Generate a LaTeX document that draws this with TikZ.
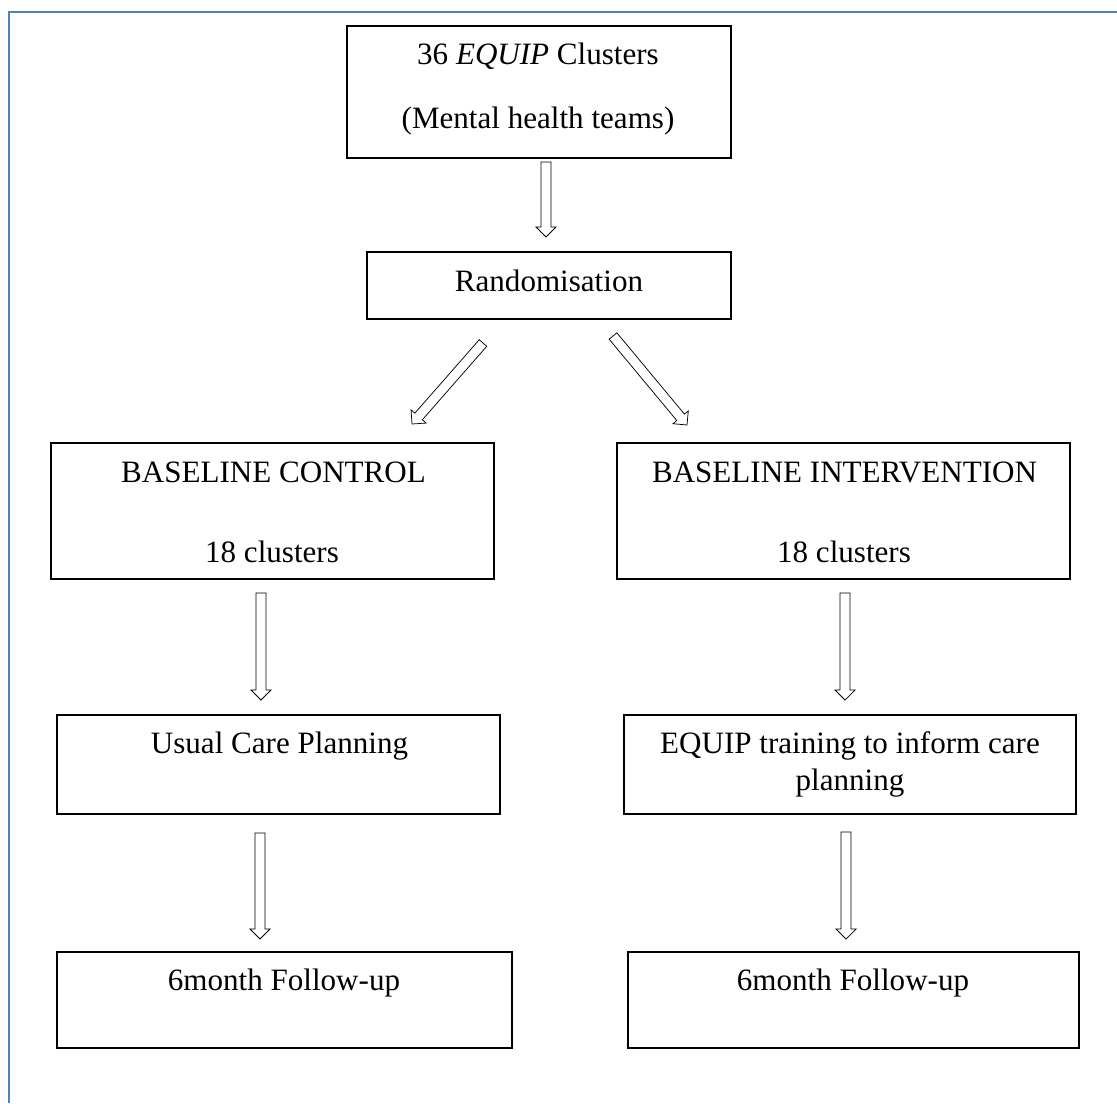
\documentclass[tikz,border=0pt]{standalone}
\usepackage{fontspec}
\setmainfont{Liberation Serif}
\usetikzlibrary{calc}
\definecolor{frameblue}{RGB}{79,129,189}
\tikzset{
  box/.style={draw=black, line width=1pt, fill=white, inner sep=0pt},
  txt/.style={anchor=base, inner sep=0pt, font=\fontsize{23.3}{28}\selectfont},
  hollow/.style={draw=black, line width=0.55pt, fill=white, line join=miter},
}
% outlined block arrow from tail #1 to tip #2
\newcommand\hollowarrow[2]{%
  \coordinate (hb) at ($(#2)!7.5pt!(#1)$);
  \draw[hollow] ($(#1)!3.75pt!90:(#2)$) -- ($(hb)!3.75pt!90:(#2)$)
     -- ($(hb)!7.5pt!90:(#2)$) -- (#2) -- ($(hb)!7.5pt!-90:(#2)$)
     -- ($(hb)!3.75pt!-90:(#2)$) -- ($(#1)!3.75pt!-90:(#2)$) -- cycle;
}
\begin{document}
\begin{tikzpicture}[x=0.75pt,y=-0.75pt]
  \useasboundingbox (0,0) rectangle (1117,1103);
  \fill[white] (0,0) rectangle (1117,1103);
  % page frame
  \draw[frameblue, line width=1.5pt] (8.5,1103) -- (8.5,11.5) -- (1117,11.5);

  % boxes
  \node[box, minimum width=288pt, minimum height=99pt] (top) at (539,92) {};
  \node[box, minimum width=273pt, minimum height=50.25pt] (rand) at (549,285.5) {};
  \node[box, minimum width=332.25pt, minimum height=102pt] (bc) at (272.5,511) {};
  \node[box, minimum width=339.75pt, minimum height=102pt] (bi) at (843.5,511) {};
  \node[box, minimum width=332.25pt, minimum height=74.25pt] (ucp) at (278.5,764.5) {};
  \node[box, minimum width=339pt, minimum height=74.25pt] (eqt) at (850,764.5) {};
  \node[box, minimum width=341.25pt, minimum height=72pt] (fl) at (284.5,1000) {};
  \node[box, minimum width=338.25pt, minimum height=72pt] (fr) at (853.5,1000) {};

  % texts
  \node[txt] (t1) at (538,64) {36 \textit{EQUIP} Clusters};
  \node[txt] (t2) at (538,128) {(Mental health teams)};
  \node[txt] (t3) at (549,291) {Randomisation};
  \node[txt] (t4) at (273.5,482) {BASELINE CONTROL};
  \node[txt] (t5) at (272,562) {18 clusters};
  \node[txt] (t6) at (844.5,482) {BASELINE INTERVENTION};
  \node[txt] (t7) at (844,562) {18 clusters};
  \node[txt] (t8) at (279.5,753) {Usual Care Planning};
  \node[txt] (t9) at (850,753) {EQUIP training to inform care};
  \node[txt] (t10) at (850,790) {planning};
  \node[txt] (t11) at (284,990) {6month Follow-up};
  \node[txt] (t12) at (853,990) {6month Follow-up};

  % arrow ends
  \coordinate (a1s) at (546,162);  \coordinate (a1e) at (546,237);
  \coordinate (a2s) at (483,343);  \coordinate (a2e) at (412,424);
  \coordinate (a3s) at (613,336);  \coordinate (a3e) at (687,425);
  \coordinate (a4s) at (261,593);  \coordinate (a4e) at (261,700);
  \coordinate (a5s) at (845,593);  \coordinate (a5e) at (845,700);
  \coordinate (a6s) at (260,833);  \coordinate (a6e) at (260,939);
  \coordinate (a7s) at (846,832);  \coordinate (a7e) at (846,939);

  \hollowarrow{a1s}{a1e}
  \hollowarrow{a2s}{a2e}
  \hollowarrow{a3s}{a3e}
  \hollowarrow{a4s}{a4e}
  \hollowarrow{a5s}{a5e}
  \hollowarrow{a6s}{a6e}
  \hollowarrow{a7s}{a7e}
\end{tikzpicture}
\end{document}
